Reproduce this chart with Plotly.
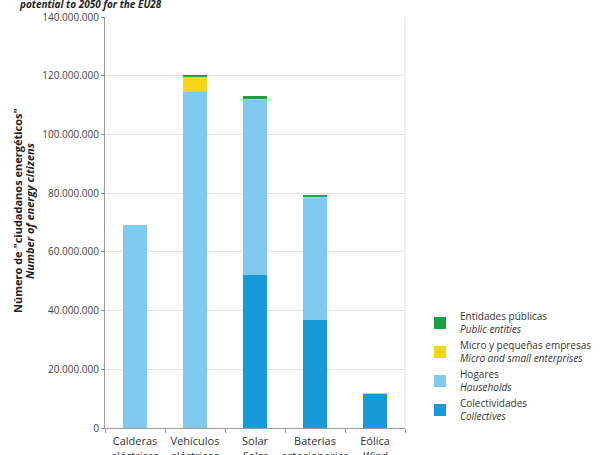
import plotly.graph_objects as go

categories = [
    "Calderas<br>eléctricas",
    "Vehículos<br>eléctricos",
    "Solar<br><i>Solar</i>",
    "Baterías<br>estacionarias",
    "Eólica<br><i>Wind</i>",
]
colectividades = [0, 0, 52100000, 36800000, 11600000]
hogares = [69100000, 114500000, 59600000, 41400000, 0]
micro = [0, 5200000, 700000, 700000, 300000]
publicas = [0, 600000, 600000, 600000, 0]

series_names = [
    "Colectividades<br><i>Collectives</i>",
    "Hogares<br><i>Households</i>",
    "Micro y pequeñas empresas<br><i>Micro and small enterprises</i>",
    "Entidades públicas<br><i>Public entities</i>",
]
series_values = [colectividades, hogares, micro, publicas]
series_colors = ["#169bd7", "#80c9ef", "#f7d417", "#1f9e4a"]

y_ticks = [0, 20000000, 40000000, 60000000, 80000000, 100000000, 120000000, 140000000]

FONT = "Open Sans"

fig = go.Figure()
for i, (name, vals, col) in enumerate(zip(series_names, series_values, series_colors)):
    fig.add_trace(go.Bar(
        x=categories, y=vals, name=name, marker_color=col,
        marker_line_width=0, width=0.39, legendgroup=f"g{i}",
    ))

fig.update_layout(
    width=605, height=455,
    barmode="stack",
    separators=",.",
    paper_bgcolor="white", plot_bgcolor="white",
    margin=dict(l=105, r=200, t=17, b=27, autoexpand=False),
    font=dict(family=FONT, size=10, color="#333333"),
    showlegend=True,
    legend=dict(
        x=1.05, xanchor="left", y=0.303, yanchor="top",
        traceorder="reversed", tracegroupgap=5,
        font=dict(family=FONT, size=10, color="#333333"),
        bgcolor="rgba(0,0,0,0)",
    ),
)
fig.update_xaxes(
    showgrid=False, showline=True, linecolor="#9a9a9a", linewidth=1,
    ticks="outside", ticklen=4, tickcolor="#9a9a9a", tickson="boundaries",
    tickfont=dict(family=FONT, size=11, color="#333333"),
    tickangle=0, automargin=False, ticklabelstandoff=3,
    range=[-0.5, 4.5],
)
fig.update_yaxes(
    range=[0, 140000000], tickvals=y_ticks, tickformat=",d",
    showgrid=True, gridcolor="#e3e3e3", gridwidth=1,
    showline=True, linecolor="#9a9a9a", linewidth=1,
    ticks="outside", ticklen=3, tickcolor="#9a9a9a",
    zeroline=False, automargin=False,
    tickfont=dict(family=FONT, size=10, color="#444444"),
)
# right border of plot area
fig.add_shape(type="line", xref="paper", yref="paper", x0=1, x1=1, y0=0, y1=1,
              line=dict(color="#e3e3e3", width=1))
# y axis title (two lines, each centred on the same height)
fig.add_annotation(
    xref="paper", yref="paper", x=-0.29, y=0.528, xanchor="center", yanchor="middle",
    textangle=-90, showarrow=False,
    text="<b>Número de \"ciudadanos energéticos\"</b>",
    font=dict(family=FONT, size=11, color="#222222"),
)
fig.add_annotation(
    xref="paper", yref="paper", x=-0.25, y=0.528, xanchor="center", yanchor="middle",
    textangle=-90, showarrow=False,
    text="<b><i>Number of energy citizens</i></b>",
    font=dict(family=FONT, size=11, color="#222222"),
)
# title at top
fig.add_annotation(
    xref="paper", yref="paper", x=-0.29, y=1.051, xanchor="left", yanchor="top",
    showarrow=False, borderpad=0,
    text="<b><i>potential to 2050 for the EU28</i></b>",
    font=dict(family=FONT, size=10, color="#222222"),
)

fig.write_html("out.html")
